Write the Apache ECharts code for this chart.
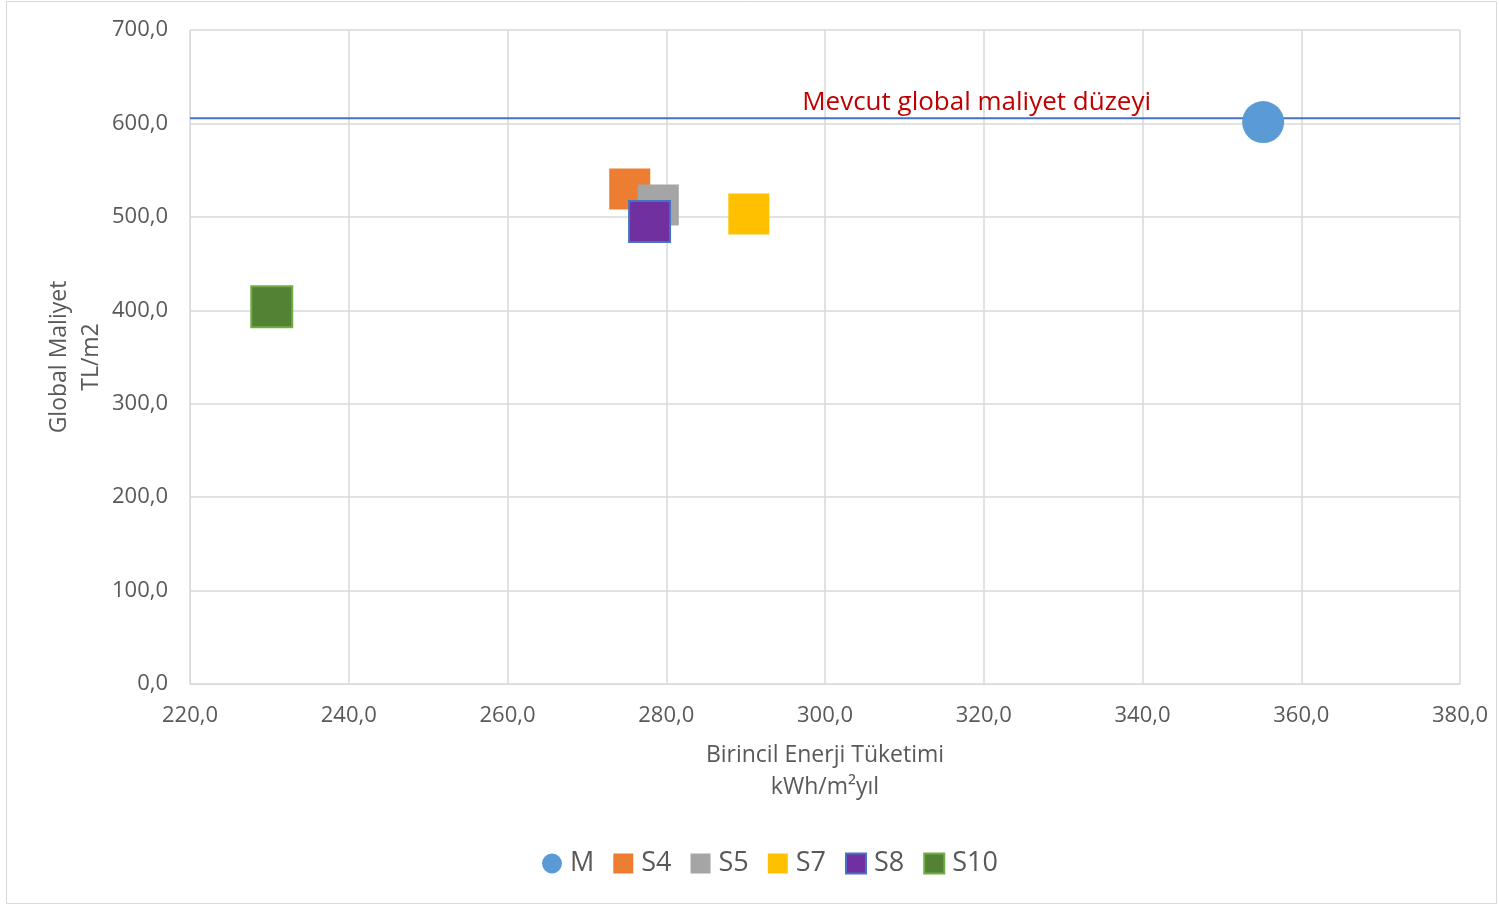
<!DOCTYPE html>
<html>
<head>
<meta charset="utf-8">
<script src="https://cdn.jsdelivr.net/npm/echarts@6/dist/echarts.min.js"></script>
<style>
  html, body { margin: 0; padding: 0; background: #fff; }
  #chart { width: 1499px; height: 906px; }
</style>
</head>
<body>
<div id="chart"></div>
<script>
// Scenario points: primary energy (kWh/m²yıl) vs. global cost (TL/m2)
const seriesNames = ['M', 'S4', 'S5', 'S7', 'S8', 'S10'];
const energyValues = [355.2, 275.4, 279.0, 290.4, 277.9, 230.3];
const costValues = [601.5, 529.8, 512.7, 503.1, 495.0, 403.8];
const currentCostLevel = 605.5;
const currentCostLabel = 'Mevcut global maliyet düzeyi';
const xTicks = { min: 220, max: 380, step: 20 };
const yTicks = { min: 0, max: 700, step: 100 };

const styles = {
  M:   { symbol: 'circle', color: '#5B9BD5' },
  S4:  { symbol: 'rect', color: '#ED7D31' },
  S5:  { symbol: 'rect', color: '#A5A5A5' },
  S7:  { symbol: 'rect', color: '#FFC000' },
  S8:  { symbol: 'rect', color: '#7030A0', borderColor: '#4472C4', borderWidth: 2 },
  S10: { symbol: 'rect', color: '#548235', borderColor: '#70AD47', borderWidth: 2 }
};

const FONT = '"Open Sans", "Noto Sans", sans-serif';
const TEXT = '#595959';
const fmt = v => v.toFixed(1).replace('.', ',');

const chart = echarts.init(document.getElementById('chart'), null, { renderer: 'canvas' });

const pointSeries = seriesNames.map((name, i) => {
  const s = styles[name];
  return {
    name,
    type: 'scatter',
    symbol: s.symbol,
    symbolSize: name === 'M' ? 42 : 41,
    itemStyle: {
      color: s.color,
      borderColor: s.borderColor || s.color,
      borderWidth: s.borderWidth || 0,
      opacity: 1
    },
    emphasis: { disabled: true },
    z: 3 + i,
    data: [[energyValues[i], costValues[i]]]
  };
});

const option = {
  backgroundColor: '#fff',
  animation: false,
  textStyle: { fontFamily: FONT, color: TEXT },
  graphic: [{
    type: 'rect',
    shape: { x: 6.5, y: 1.5, width: 1490, height: 902 },
    style: { fill: 'none', stroke: '#D9D9D9', lineWidth: 1 },
    z: -1
  }],
  grid: { left: 190, right: 39, top: 30, bottom: 222, containLabel: false },
  xAxis: {
    type: 'value',
    min: xTicks.min, max: xTicks.max, interval: xTicks.step,
    name: 'Birincil Enerji Tüketimi\nkWh/m²yıl',
    nameLocation: 'middle',
    nameGap: 55,
    nameMoveOverlap: false,
    nameTextStyle: { fontFamily: FONT, fontSize: 23, color: TEXT, lineHeight: 32 },
    axisLine: { show: true, lineStyle: { color: '#D9D9D9', width: 1 } },
    axisTick: { show: false },
    axisLabel: { formatter: fmt, fontFamily: FONT, fontSize: 22, color: TEXT, margin: 21 },
    splitLine: { show: true, lineStyle: { color: '#D9D9D9', width: 1.5 } }
  },
  yAxis: {
    type: 'value',
    min: yTicks.min, max: yTicks.max, interval: yTicks.step,
    name: 'Global Maliyet\nTL/m2',
    nameLocation: 'middle',
    nameGap: 83,
    nameRotate: 90,
    nameMoveOverlap: false,
    nameTextStyle: { fontFamily: FONT, fontSize: 23, color: TEXT, lineHeight: 32 },
    axisLine: { show: true, lineStyle: { color: '#D9D9D9', width: 1 } },
    axisTick: { show: false },
    axisLabel: { formatter: fmt, fontFamily: FONT, fontSize: 22, color: TEXT, margin: 22 },
    splitLine: { show: true, lineStyle: { color: '#D9D9D9', width: 1.5 } }
  },
  legend: {
    data: seriesNames,
    left: 537,
    top: 845,
    itemWidth: 20,
    itemHeight: 20,
    itemGap: 19,
    textStyle: { fontFamily: FONT, fontSize: 27, color: TEXT, padding: [0, 0, 0, 3] }
  },
  series: [
    {
      name: 'level',
      type: 'line',
      symbol: 'none',
      silent: true,
      lineStyle: { color: '#4472C4', width: 2 },
      z: 2,
      data: [[xTicks.min, currentCostLevel], [xTicks.max, currentCostLevel]],
      markPoint: {
        symbol: 'circle',
        symbolSize: 0,
        silent: true,
        data: [{ coord: [319.1, currentCostLevel] }],
        label: {
          show: true,
          position: 'top',
          distance: 3,
          formatter: currentCostLabel,
          fontFamily: FONT,
          fontSize: 26,
          color: '#C00000'
        }
      }
    },
    ...pointSeries
  ]
};

chart.setOption(option);
</script>
</body>
</html>
